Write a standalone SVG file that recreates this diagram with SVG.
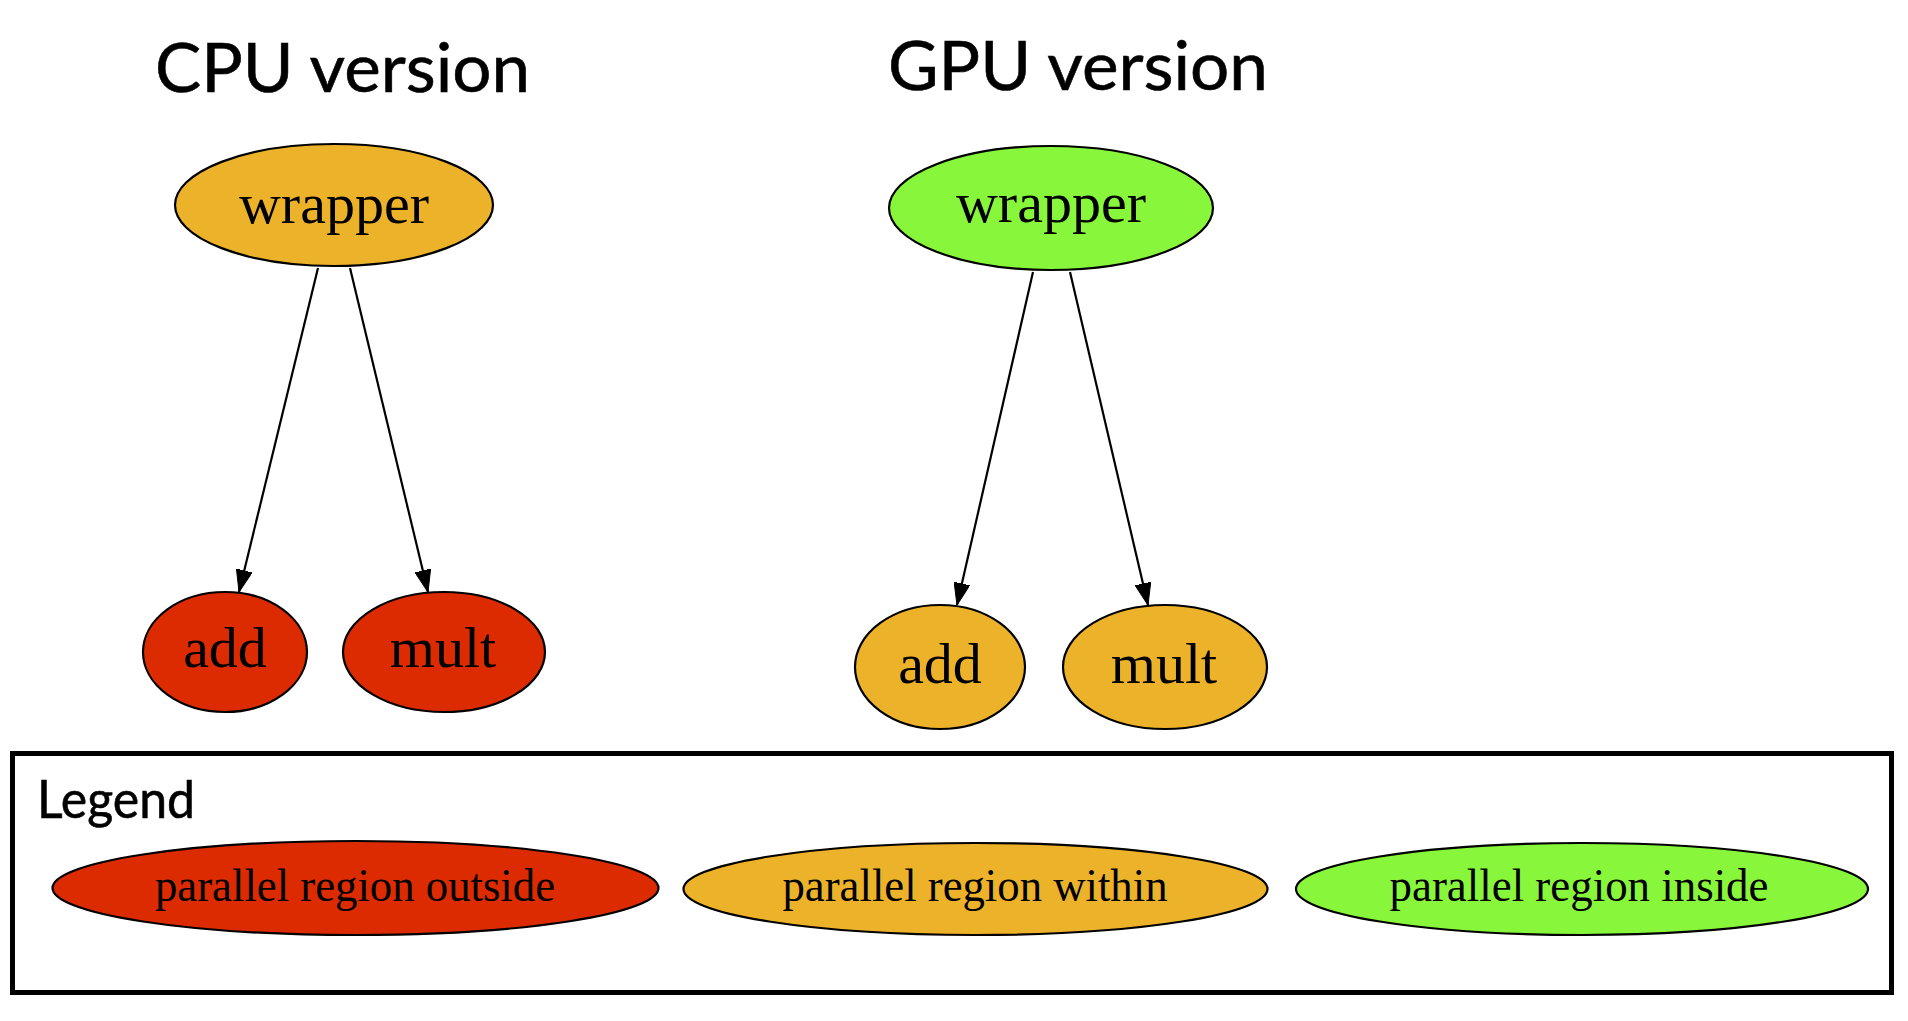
<svg xmlns="http://www.w3.org/2000/svg" width="1908" height="1021" viewBox="0 0 1908 1021">
<defs>
<marker id="arr" viewBox="0 0 22 16" refX="22" refY="8" markerWidth="22" markerHeight="16" markerUnits="userSpaceOnUse" orient="auto">
<path d="M0,0 L22,8 L0,16 Z" fill="#000" stroke="#000" stroke-width="1"/>
</marker>
</defs>
<style>
.title{font-family:Lato,"Gill Sans","Noto Sans",sans-serif;fill:#000;stroke:#000;stroke-width:0.6}
.lbl{font-family:"Liberation Serif","Times New Roman",serif;font-size:58px;fill:#000;text-anchor:middle}
.leg{font-family:"Liberation Serif","Times New Roman",serif;font-size:46px;fill:#000;text-anchor:middle}
.n{stroke:#000;stroke-width:2.2}
.red{fill:#DC2B00}
.orange{fill:#ECB32A}
.green{fill:#88F73B}
.edge{fill:none;stroke:#000;stroke-width:2.2;marker-end:url(#arr)}
</style>
<rect width="1908" height="1021" fill="#fff"/>
<text class="title" x="155" y="92" font-size="68" textLength="375" lengthAdjust="spacingAndGlyphs">CPU version</text>
<text class="title" x="888" y="90" font-size="68" textLength="380" lengthAdjust="spacingAndGlyphs">GPU version</text>
<g id="connectors">
<path class="edge" d="M318,268 L239,592"/>
<path class="edge" d="M350,268 L428,592"/>
<path class="edge" d="M1033,272 L957,605"/>
<path class="edge" d="M1070,272 L1148,605"/>
</g>
<g id="cpu_wrapper"><ellipse class="n orange" cx="334" cy="205" rx="159" ry="61"/><text class="lbl" x="334" y="223">wrapper</text></g>
<g id="cpu_add"><ellipse class="n red" cx="225" cy="652" rx="82" ry="60"/><text class="lbl" x="225" y="667">add</text></g>
<g id="cpu_mult"><ellipse class="n red" cx="444" cy="652" rx="101" ry="60"/><text class="lbl" x="443" y="667">mult</text></g>
<g id="gpu_wrapper"><ellipse class="n green" cx="1051" cy="208" rx="162" ry="62"/><text class="lbl" x="1051" y="222">wrapper</text></g>
<g id="gpu_add"><ellipse class="n orange" cx="940" cy="667" rx="85" ry="62"/><text class="lbl" x="940" y="683">add</text></g>
<g id="gpu_mult"><ellipse class="n orange" cx="1165" cy="667" rx="102" ry="62"/><text class="lbl" x="1164" y="683">mult</text></g>
<g id="legend">
<rect x="12.5" y="753.5" width="1879" height="239" fill="none" stroke="#000" stroke-width="5"/>
<text class="title" x="37" y="818" font-size="53" textLength="158" lengthAdjust="spacingAndGlyphs">Legend</text>
<g id="legend_outside"><ellipse class="n red" cx="355.5" cy="888" rx="303" ry="47"/><text class="leg" x="355" y="901" textLength="400" lengthAdjust="spacingAndGlyphs">parallel region outside</text></g>
<g id="legend_within"><ellipse class="n orange" cx="975.5" cy="889" rx="292" ry="46"/><text class="leg" x="975" y="901" textLength="385" lengthAdjust="spacingAndGlyphs">parallel region within</text></g>
<g id="legend_inside"><ellipse class="n green" cx="1582" cy="889" rx="286" ry="46"/><text class="leg" x="1579" y="901" textLength="379" lengthAdjust="spacingAndGlyphs">parallel region inside</text></g>
</g>
</svg>
